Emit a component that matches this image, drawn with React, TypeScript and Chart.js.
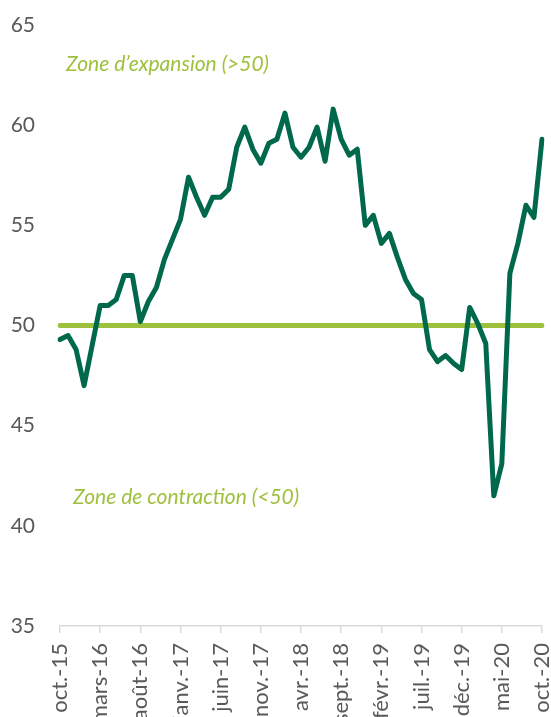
import React, { useEffect, useRef } from "react";
import { Chart, registerables } from "chart.js";

Chart.register(...registerables);

const categories = [
  "oct.-15", "nov.-15", "déc.-15",
  "janv.-16", "févr.-16", "mars-16", "avr.-16", "mai-16", "juin-16", "juil.-16", "août-16", "sept.-16", "oct.-16", "nov.-16", "déc.-16",
  "janv.-17", "févr.-17", "mars-17", "avr.-17", "mai-17", "juin-17", "juil.-17", "août-17", "sept.-17", "oct.-17", "nov.-17", "déc.-17",
  "janv.-18", "févr.-18", "mars-18", "avr.-18", "mai-18", "juin-18", "juil.-18", "août-18", "sept.-18", "oct.-18", "nov.-18", "déc.-18",
  "janv.-19", "févr.-19", "mars-19", "avr.-19", "mai-19", "juin-19", "juil.-19", "août-19", "sept.-19", "oct.-19", "nov.-19", "déc.-19",
  "janv.-20", "févr.-20", "mars-20", "avr.-20", "mai-20", "juin-20", "juil.-20", "août-20", "sept.-20", "oct.-20",
];

const pmiValues = [
  49.3, 49.5, 48.8, 47.0, 49.0, 51.0, 51.0, 51.3, 52.5, 52.5,
  50.2, 51.2, 51.9, 53.3, 54.3, 55.3, 57.4, 56.4, 55.5, 56.4,
  56.4, 56.8, 58.9, 59.9, 58.8, 58.1, 59.1, 59.3, 60.6, 58.9,
  58.4, 58.9, 59.9, 58.2, 60.8, 59.3, 58.5, 58.8, 55.0, 55.5,
  54.1, 54.6, 53.4, 52.3, 51.6, 51.3, 48.8, 48.2, 48.5, 48.1,
  47.8, 50.9, 50.1, 49.1, 41.5, 43.1, 52.6, 54.1, 56.0, 55.4,
  59.3,
];

const thresholdValue = 50;
const yTicks = [35, 40, 45, 50, 55, 60, 65];
const labelEvery = 5;

const annotationTexts = ["Zone d\u2019expansion (>50)", "Zone de contraction (<50)"];
const annotationValues = [63.05, 41.45];

const DARK = "#00684B";
const LIGHT = "#9DC13C";
const TEXT = "#595959";
const FONT = "Lato";

const annotationPlugin = {
  id: "zones",
  afterDatasetsDraw(chart: any) {
    const { ctx, chartArea, scales } = chart;
    ctx.save();
    ctx.font = `italic 21px ${FONT}`;
    ctx.fillStyle = LIGHT;
    ctx.textBaseline = "middle";
    ctx.textAlign = "left";
    const offsets = [6, 13];
    annotationTexts.forEach((t, i) => {
      ctx.fillText(t, chartArea.left + offsets[i], scales.y.getPixelForValue(annotationValues[i]));
    });
    ctx.restore();
  },
};

export default function App() {
  const ref = useRef<HTMLCanvasElement | null>(null);
  useEffect(() => {
    if (!ref.current) return;
    const chart = new Chart(ref.current, {
      type: "line",
      data: {
        labels: categories,
        datasets: [
          {
            data: pmiValues,
            borderColor: DARK,
            borderWidth: 5,
            pointRadius: 0,
            tension: 0,
            borderJoinStyle: "round",
            borderCapStyle: "round",
            order: 0,
          },
          {
            data: [
              { x: categories[0], y: thresholdValue },
              { x: categories[categories.length - 1], y: thresholdValue },
            ],
            borderColor: LIGHT,
            borderWidth: 5,
            pointRadius: 0,
            borderCapStyle: "round",
            order: 1,
          },
        ],
      },
      options: {
        responsive: false,
        animation: false,
        layout: { padding: { top: 25, right: 9, left: 0, bottom: 0 } },
        plugins: { legend: { display: false }, tooltip: { enabled: false } },
        scales: {
          x: {
            type: "category",
            offset: false,
            afterFit: (scale: any) => {
              scale.height = 91;
              scale.paddingLeft = 0;
              scale.paddingRight = 0;
            },
            grid: {
              display: true,
              drawOnChartArea: false,
              drawTicks: true,
              tickLength: 7,
              color: (c: any) => (c.index % labelEvery === 0 ? "#D9D9D9" : "rgba(0,0,0,0)"),
              lineWidth: 1.5,
            },
            border: { display: true, color: "#D9D9D9", width: 1.5 },
            ticks: {
              autoSkip: false,
              maxRotation: 90,
              minRotation: 90,
              padding: 10,
              color: TEXT,
              font: { family: FONT, size: 22 },
              callback: (_v: any, i: number) => (i % labelEvery === 0 ? categories[i] : ""),
            },
          },
          y: {
            min: yTicks[0],
            max: yTicks[yTicks.length - 1],
            afterFit: (scale: any) => {
              scale.width = 60;
              scale.paddingTop = 0;
              scale.paddingBottom = 0;
            },
            afterBuildTicks: (scale: any) => {
              scale.ticks = yTicks.map((v) => ({ value: v }));
            },
            grid: { display: false, drawTicks: false },
            border: { display: false },
            ticks: {
              padding: 25,
              color: TEXT,
              font: { family: FONT, size: 21 },
            },
          },
        },
      },
      plugins: [annotationPlugin],
    } as any);
    return () => chart.destroy();
  }, []);
  return (
    <div style={{ position: "fixed", left: 0, top: 0, width: 551, height: 717, overflow: "hidden", background: "#fff" }}>
      <canvas ref={ref} width={551} height={717} />
    </div>
  );
}
